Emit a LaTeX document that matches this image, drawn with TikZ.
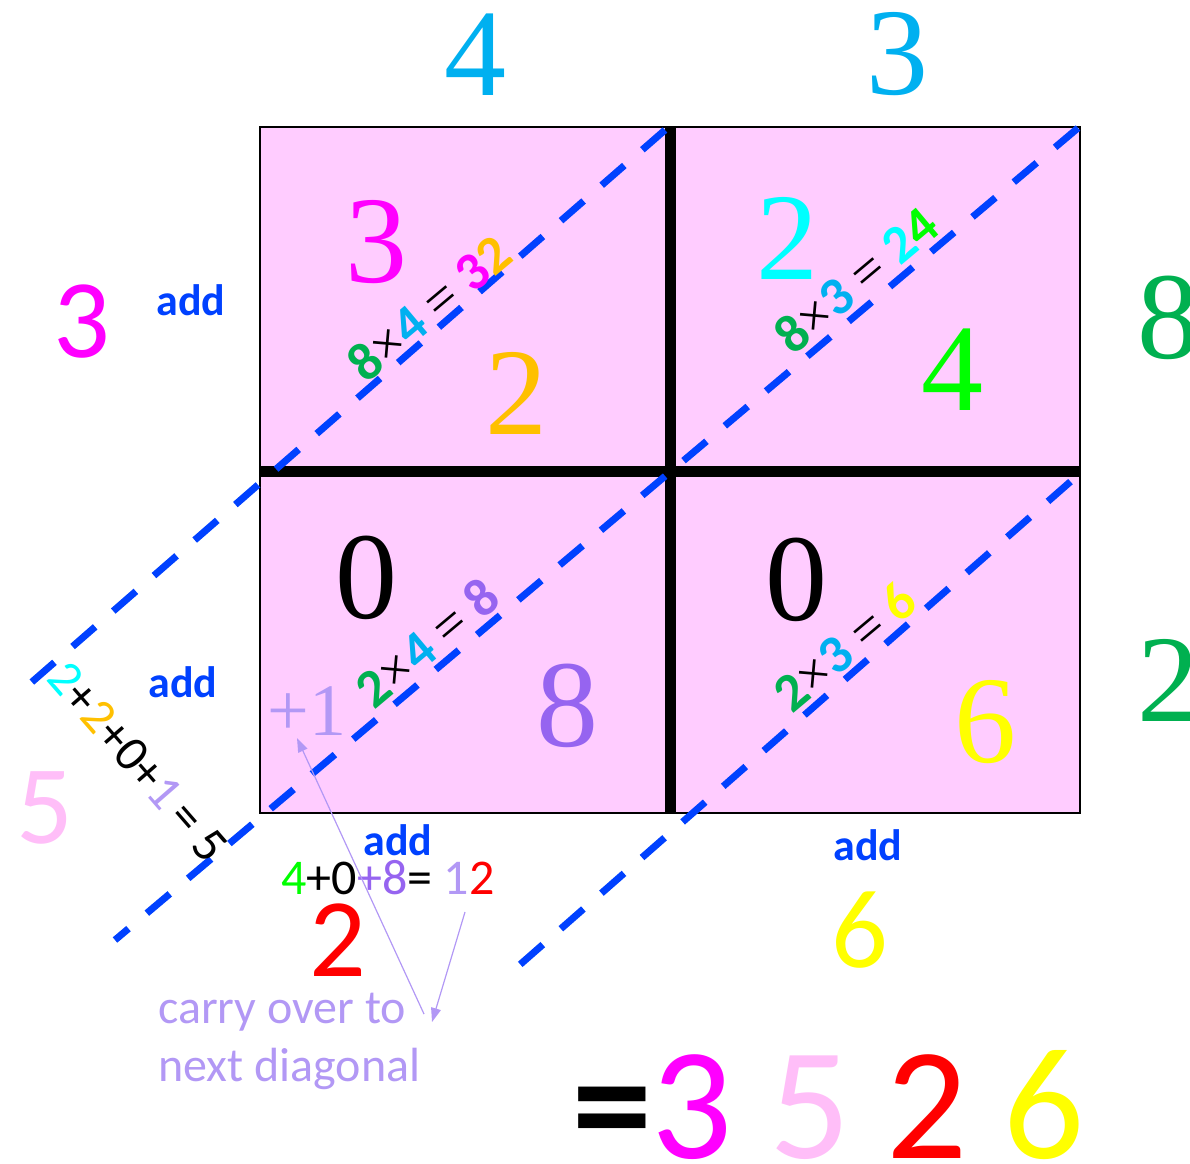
\documentclass[tikz,border=0pt]{standalone}
\usepackage{fontspec}
\setmainfont{Liberation Serif}
\newfontfamily\calib{Carlito}
\usetikzlibrary{arrows.meta}

\definecolor{cellpink}{RGB}{255,204,255}
\definecolor{diagblue}{RGB}{0,65,255}
\definecolor{mag}{RGB}{255,0,255}
\definecolor{gold}{RGB}{255,192,0}
\definecolor{skyblue}{RGB}{0,176,240}
\definecolor{dgreen}{RGB}{0,176,80}
\definecolor{lime}{RGB}{0,255,0}
\definecolor{aqua}{RGB}{0,255,255}
\definecolor{violet}{RGB}{150,100,240}
\definecolor{lilac}{RGB}{178,152,245}
\definecolor{pinkfive}{RGB}{255,190,248}
\definecolor{redtwo}{RGB}{255,0,0}
\definecolor{yellowsix}{RGB}{255,255,0}

\newcommand{\opx}{{\rmfamily\mdseries\color{black}×}}
\newcommand{\opeq}{{\rmfamily\mdseries\color{black}=}}

\begin{document}
\begin{tikzpicture}[
  x=1pt, y=-1pt,
  bigdig/.style={inner sep=0pt, font=\fontsize{124}{124}\selectfont},
  sansdig/.style={inner sep=0pt, font=\calib\fontsize{112}{112}\selectfont},
  addlbl/.style={inner sep=0pt, text=diagblue, font=\calib\bfseries\fontsize{44}{44}\selectfont},
  diag/.style={inner sep=0pt, rotate=40, font=\calib\bfseries\fontsize{54}{54}\selectfont},
  sumtxt/.style={inner sep=0pt, font=\calib\fontsize{50}{50}\selectfont},
  dline/.style={draw=diagblue, line width=7pt, dash pattern=on 30pt off 24pt},
  carryarr/.style={draw=lilac, line width=1.2pt, -{Triangle[length=14pt,width=10pt]}}
]
\useasboundingbox (0,0) rectangle (1190,1163);

% lattice
\fill[cellpink] (260,127) rectangle (1080,813);
\draw[line width=2pt] (260,127) rectangle (1080,813);
\draw[line width=11pt] (670,127) -- (670,813);
\draw[line width=11pt] (260,471) -- (1080,471);

% diagonals
\coordinate (a1) at (665,130);  \coordinate (a2) at (25,688);
\coordinate (b1) at (1078,128); \coordinate (b2) at (115,940);
\coordinate (c1) at (1078,475); \coordinate (c2) at (507,976);
\draw[dline] (a1) -- (a2);
\draw[dline] (b1) -- (b2);
\draw[dline, dash phase=-10pt] (c1) -- (c2);

% multiplicands
\node[bigdig, text=skyblue] (top4) at (475,55) {4};
\node[bigdig, text=skyblue] (top3) at (897,54) {3};
\node[bigdig, text=dgreen] (right8) at (1168,318) {8};
\node[bigdig, text=dgreen] (right2) at (1168,680) {2};

% cell digits
\node[bigdig, text=mag] (c11a) at (376,242) {3};
\node[bigdig, text=gold] (c11b) at (516,393) {2};
\node[bigdig, text=aqua] (c12a) at (787,238) {2};
\node[bigdig, text=lime] (c12b) at (952,370) {4};
\node[bigdig] (c21a) at (366,578) {0};
\node[bigdig, text=violet] (c21b) at (567,706) {8};
\node[bigdig] (c22a) at (796,580) {0};
\node[bigdig, text=yellowsix] (c22b) at (985,722) {6};

% products along the diagonals
\node[diag] (p11) at (429,308) {\textcolor{dgreen}{8}\opx\textcolor{skyblue}{4} \opeq\ \textcolor{mag}{3}\textcolor{gold}{2}};
\node[diag] (p12) at (856,280) {\textcolor{dgreen}{8}\opx\textcolor{skyblue}{3} \opeq\ \textcolor{aqua}{2}\textcolor{lime}{4}};
\node[diag] (p21) at (427,643) {\textcolor{dgreen}{2}\opx\textcolor{skyblue}{4} \opeq\ \textcolor{violet}{8}};
\node[diag] (p22) at (845,647) {\textcolor{dgreen}{2}\opx\textcolor{skyblue}{3} \opeq\ \textcolor{yellowsix}{6}};
\node[inner sep=0pt, text=lilac, font=\fontsize{74}{74}\selectfont] (plus1) at (307,711) {+1};

% sums
\node[addlbl] (add1) at (191,300) {add};
\node[addlbl] (add2) at (183,682) {add};
\node[addlbl] (add3) at (398,840) {add};
\node[addlbl] (add4) at (868,845) {add};
\node[sansdig, text=mag] (res3) at (82,322) {3};
\node[sansdig, text=pinkfive] (res5) at (45,808) {5};
\node[sansdig, text=redtwo] (res2) at (338,940) {2};
\node[sansdig, text=yellowsix] (res6) at (860,930) {6};
\node[sumtxt, rotate=-49] (sum5) at (138,762) {\textcolor{aqua}{2}+\textcolor{gold}{2}+0+\textcolor{lilac}{1}\,= 5};
\node[sumtxt] (sum12) at (388,878) {\textcolor{lime}{4}+0\textcolor{violet}{+8}= \textcolor{lilac}{1}\textcolor{redtwo}{2}};

% carry note
\node[inner sep=0pt, text=lilac, font=\calib\fontsize{48}{58}\selectfont, align=left, anchor=north west] (carry) at (158,993) {carry over to\\next diagonal};
\coordinate (from12) at (465,912);
\coordinate (tocarry) at (432,1022);
\coordinate (carryfoot) at (424,1014);
\coordinate (toplus) at (297,738);
\draw[carryarr] (from12) -- (tocarry);
\draw[carryarr] (carryfoot) -- (toplus);

% result
\node[inner sep=0pt, anchor=base west, font=\calib\fontsize{160}{160}\selectfont] (result) at (572,1158) {{\bfseries=}\textcolor{mag}{3} \textcolor{pinkfive}{5} \textcolor{redtwo}{2} \textcolor{yellowsix}{6}};
\end{tikzpicture}
\end{document}
